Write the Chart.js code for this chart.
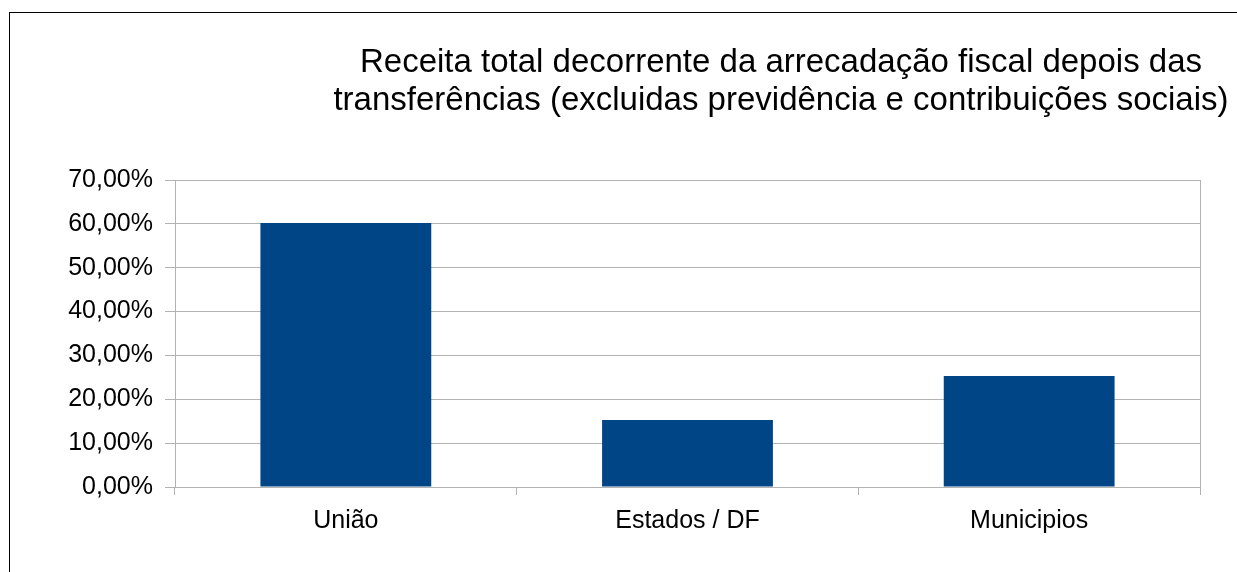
<!DOCTYPE html>
<html>
<head>
<meta charset="utf-8">
<script src="https://cdn.jsdelivr.net/npm/chart.js@4/dist/chart.umd.min.js"></script>
<style>
  html, body { margin: 0; padding: 0; background: #fff; overflow: hidden; }
  #wrap { position: relative; width: 1237px; height: 572px; }
  #frame { position: absolute; left: 9px; top: 12px; width: 1400px; height: 800px;
           border-left: 1px solid #000; border-top: 1px solid #000; pointer-events: none; }
  canvas { position: absolute; left: 0; top: 0; }
</style>
</head>
<body>
<div id="wrap">
  <canvas id="chart" width="1237" height="572"></canvas>
  <div id="frame"></div>
</div>
<script>
// Chart data
const categories = ['União', 'Estados / DF', 'Municipios'];
const shares = [60.2, 15.3, 25.3];
const titleLines = [
  'Receita total decorrente da arrecadação fiscal depois das',
  'transferências (excluidas previdência e contribuições sociais)'
];
const yTicks = [0, 10, 20, 30, 40, 50, 60, 70];

const fontFamily = '"Liberation Sans", Arial, sans-serif';
const gridColor = '#b3b3b3';

// Title drawn off-centre like the original (office style chart)
const titlePlugin = {
  id: 'offTitle',
  afterDraw(chart) {
    const ctx = chart.ctx;
    ctx.save();
    ctx.font = '33px ' + fontFamily;
    ctx.fillStyle = '#000';
    ctx.textAlign = 'center';
    ctx.textBaseline = 'alphabetic';
    titleLines.forEach((line, i) => ctx.fillText(line, 781, 72 + i * 38));
    ctx.restore();
  }
};

// Right-hand border of the plot area
const plotBorder = {
  id: 'plotBorder',
  beforeDatasetsDraw(chart) {
    const { ctx, chartArea } = chart;
    ctx.save();
    ctx.strokeStyle = gridColor;
    ctx.lineWidth = 1;
    ctx.beginPath();
    ctx.moveTo(Math.round(chartArea.right) + 0.5, chartArea.top);
    ctx.lineTo(Math.round(chartArea.right) + 0.5, chartArea.bottom + 8);
    ctx.stroke();
    ctx.restore();
  }
};

new Chart(document.getElementById('chart'), {
  type: 'bar',
  data: {
    labels: categories,
    datasets: [{
      data: shares,
      backgroundColor: '#004586',
      borderWidth: 0,
      barPercentage: 0.5,
      categoryPercentage: 1.0
    }]
  },
  options: {
    responsive: false,
    animation: false,
    layout: { padding: { left: 0, right: 37, top: 180, bottom: 0 } },
    plugins: {
      legend: { display: false },
      title: { display: false },
      tooltip: { enabled: false }
    },
    scales: {
      x: {
        grid: { offset: true, drawOnChartArea: false, color: gridColor, tickLength: 8 },
        border: { color: gridColor },
        ticks: { color: '#000', font: { family: fontFamily, size: 25 }, padding: 11 },
        afterFit(scale) { scale.height = 85; }
      },
      y: {
        min: 0,
        max: 70,
        afterBuildTicks(scale) { scale.ticks = yTicks.map(v => ({ value: v })); },
        grid: { color: gridColor, tickLength: 10 },
        border: { color: gridColor },
        ticks: {
          color: '#000',
          font: { family: fontFamily, size: 25 },
          padding: 12,
          callback: v => v.toFixed(2).replace('.', ',') + '%'
        },
        afterFit(scale) { scale.width = 175; }
      }
    }
  },
  plugins: [titlePlugin, plotBorder]
});
</script>
</body>
</html>
